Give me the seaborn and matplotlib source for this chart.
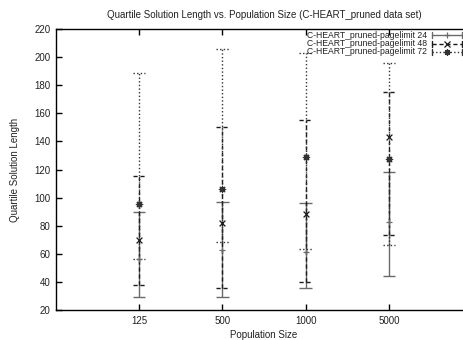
import matplotlib
matplotlib.use("Agg")
import matplotlib.pyplot as plt
import seaborn as sns
import numpy as np
import pandas as pd

# ---- data ----
categories = ["125", "500", "1000", "5000"]
series_names = ["C-HEART_pruned-pagelimit 24",
                "C-HEART_pruned-pagelimit 48",
                "C-HEART_pruned-pagelimit 72"]
low_24 = [29.5, 29.5, 35.4, 44.2]
mid_24 = [56.5, 63.0, 61.0, 82.4]
high_24 = [90.0, 97.0, 96.4, 118.0]
low_48 = [37.5, 35.4, 40.0, 73.4]
mid_48 = [70.0, 81.7, 88.0, 143.0]
high_48 = [115.4, 150.0, 155.0, 175.0]
low_72 = [56.5, 68.6, 63.4, 66.3]
mid_72 = [95.5, 106.0, 129.0, 127.5]
high_72 = [189.0, 205.5, 203.0, 195.5]
y_ticks = [20, 40, 60, 80, 100, 120, 140, 160, 180, 200, 220]

lows = [low_24, low_48, low_72]
mids = [mid_24, mid_48, mid_72]
highs = [high_24, high_48, high_72]

rows = []
for s, name in enumerate(series_names):
    for i, c in enumerate(categories):
        rows.append(dict(series=name, pos=i + 1, cat=c,
                         low=lows[s][i], mid=mids[s][i], high=highs[s][i]))
df = pd.DataFrame(rows)

# ---- style ----
sns.set_theme(style="white")
plt.rcParams["font.family"] = ["Liberation Sans", "DejaVu Sans"]
FS = 7
LFS = 6.2

colors = ["#6a6a6a", "#1a1a1a", "#333333"]
dashes = ["-", (0, (3, 2)), (0, (1, 1.6))]
markers = ["+", "x", (8, 2, 0)]
msizes = [5, 4.2, 4.5]
cap = 0.075

fig = plt.figure(figsize=(4.63, 3.40), dpi=100)
ax = fig.add_axes([56 / 463, 30 / 340, 416 / 463, 281 / 340])

for s, name in enumerate(series_names):
    d = df[df.series == name]
    ax.vlines(d.pos, d.low, d.high, colors=colors[s], linestyles=dashes[s], lw=1)
    for col in ("low", "high"):
        ax.hlines(d[col], d.pos - cap, d.pos + cap, colors=colors[s],
                  linestyles=dashes[s], lw=1)
    sns.scatterplot(x=d.pos, y=d.mid, ax=ax, marker=markers[s], s=msizes[s] ** 2,
                    color=colors[s], linewidth=0.9, edgecolor=colors[s], legend=False,
                    zorder=3)

ax.set_xlim(0, 5)
ax.set_ylim(20, 220)
ax.set_xticks(range(1, len(categories) + 1))
ax.set_xticklabels(categories)
ax.set_yticks(y_ticks)
ax.set_yticklabels([str(v) for v in y_ticks])
ax.tick_params(axis="both", direction="in", length=4, width=1, labelsize=FS,
               color="black", labelcolor="#222222", top=True, right=True,
               bottom=True, left=True)
ax.tick_params(axis="x", pad=4)
ax.tick_params(axis="y", pad=4)
for sp in ax.spines.values():
    sp.set_visible(True)
    sp.set_color("black")
    sp.set_linewidth(1)

ax.set_xlabel("Population Size", fontsize=FS, color="#222222", labelpad=3)
ax.set_ylabel("Quartile Solution Length", fontsize=FS, color="#222222", labelpad=10)
fig.text(264 / 463, 1 - 15 / 340, "Quartile Solution Length vs. Population Size (C-HEART_pruned data set)",
         fontsize=FS, ha="center", va="center", color="#222222")

# ---- legend (gnuplot style, drawn in figure coordinates) ----
row_y = [35.0, 43.5, 52.0]
for s, name in enumerate(series_names):
    yy = 1 - row_y[s] / 340
    fig.text(427 / 463, yy, name, fontsize=LFS, ha="right", va="center", color="#222222")
    x0, x1 = 432 / 463, 462 / 463
    fig.add_artist(plt.Line2D([x0, x1], [yy, yy], color=colors[s], lw=1,
                              linestyle=dashes[s], transform=fig.transFigure))
    for xe in (x0, x1):
        fig.add_artist(plt.Line2D([xe, xe], [yy - 3 / 340, yy + 3 / 340], color=colors[s],
                                  lw=1, transform=fig.transFigure))
    fig.add_artist(plt.Line2D([(x0 + x1) / 2], [yy], marker=markers[s], markersize=msizes[s],
                              color=colors[s], mew=0.9, linestyle="none",
                              transform=fig.transFigure))

fig.savefig("out.png", dpi=100)
